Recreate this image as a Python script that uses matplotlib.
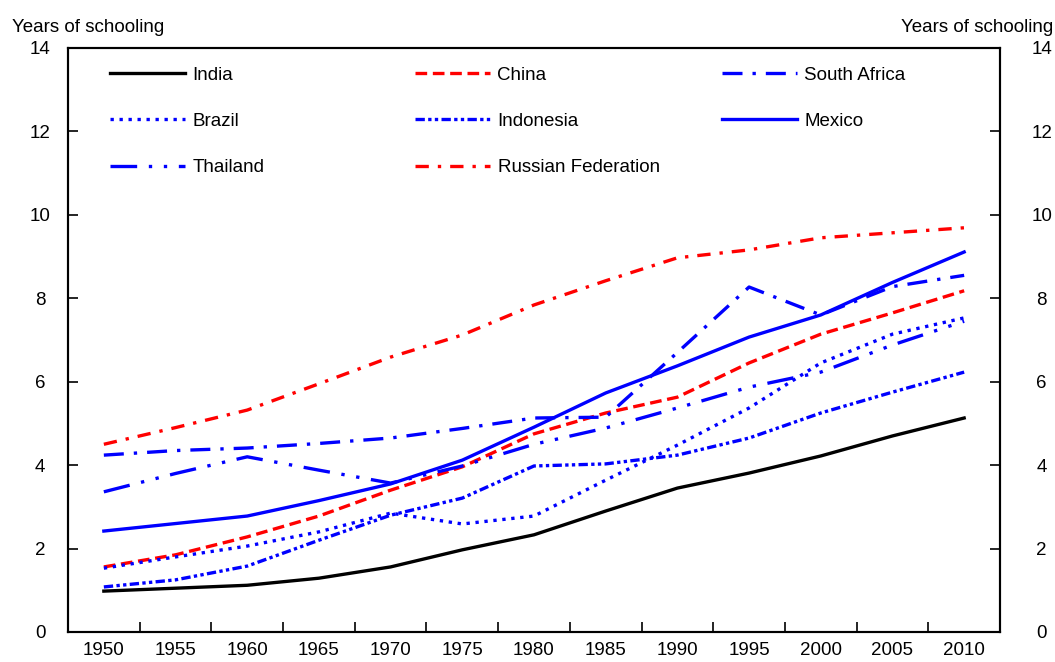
import matplotlib
matplotlib.use('Agg')
import matplotlib.pyplot as plt
import numpy as np

plt.rcParams['font.family'] = ['Liberation Sans', 'DejaVu Sans']

# Average years of schooling, 1950-2010
years = ['1950', '1955', '1960', '1965', '1970', '1975', '1980',
         '1985', '1990', '1995', '2000', '2005', '2010']

india = [0.98, 1.05, 1.12, 1.29, 1.56, 1.97, 2.33, 2.90, 3.45, 3.81, 4.22, 4.70, 5.13]
china = [1.56, 1.85, 2.28, 2.78, 3.40, 3.96, 4.75, 5.25, 5.63, 6.45, 7.14, 7.65, 8.18]
south_africa = [4.24, 4.35, 4.41, 4.52, 4.65, 4.88, 5.13, 5.15, 6.70, 8.27, 7.60, 8.28, 8.55]
brazil = [1.53, 1.80, 2.06, 2.40, 2.85, 2.59, 2.78, 3.64, 4.48, 5.37, 6.45, 7.14, 7.53]
indonesia = [1.08, 1.25, 1.58, 2.20, 2.80, 3.21, 3.98, 4.03, 4.24, 4.65, 5.25, 5.75, 6.23]
mexico = [2.42, 2.60, 2.78, 3.15, 3.55, 4.12, 4.91, 5.73, 6.38, 7.07, 7.60, 8.38, 9.11]
thailand = [3.36, 3.80, 4.20, 3.88, 3.57, 3.98, 4.50, 4.89, 5.37, 5.87, 6.23, 6.88, 7.45]
russia = [4.50, 4.90, 5.32, 5.95, 6.59, 7.12, 7.84, 8.42, 8.97, 9.16, 9.45, 9.57, 9.69]

FS = 13.5

fig = plt.figure(figsize=(10.55, 6.62), dpi=100)
ax = fig.add_axes([68 / 1055, 30 / 662, 932 / 1055, 584 / 662])

x = np.arange(len(years))
lw = 2.4
l_india, = ax.plot(x, india, color='black', lw=lw, label='India')
l_china, = ax.plot(x, china, color='#ff0000', lw=lw, ls=(0, (3.5, 1.7)), label='China')
l_sa, = ax.plot(x, south_africa, color='#0000ff', lw=lw, ls=(0, (6, 3, 1, 3)), label='South Africa')
l_brazil, = ax.plot(x, brazil, color='#0000ff', lw=lw, ls=(0, (1, 1.7)), label='Brazil')
l_indo, = ax.plot(x, indonesia, color='#0000ff', lw=lw, ls=(0, (2.8, 1, 1, 1, 1, 1)), label='Indonesia')
l_mex, = ax.plot(x, mexico, color='#0000ff', lw=lw, label='Mexico')
l_thai, = ax.plot(x, thailand, color='#0000ff', lw=lw, ls=(0, (8, 3.5, 1, 3.5, 1, 3.5)), label='Thailand')
l_rus, = ax.plot(x, russia, color='#ff0000', lw=lw, ls=(0, (4, 2.7, 1, 2.7)), label='Russian Federation')

ax.set_xlim(-0.5, len(years) - 0.5)
ax.set_ylim(0, 14)

# category labels centred, tick marks on the boundaries
ax.set_xticks(x)
ax.set_xticklabels(years, fontsize=FS)
ax.tick_params(axis='x', which='major', length=0, pad=7)
ax.set_xticks(np.arange(0.5, len(years) - 1, 1), minor=True)
ax.tick_params(axis='x', which='minor', direction='in', length=7, width=1.2)

yticks = np.arange(0, 15, 2)
ax.set_yticks(yticks)
ax.tick_params(axis='y', which='major', direction='in', length=7, width=1.2,
               labelsize=FS, pad=20)
for lab in ax.get_yticklabels():
    lab.set_horizontalalignment('center')

# right axis duplicates the scale
ax2 = ax.twinx()
ax2.set_ylim(0, 14)
ax2.set_yticks(yticks)
ax2.tick_params(axis='y', direction='in', length=7, width=1.2, labelsize=FS, pad=30)
for lab in ax2.get_yticklabels():
    lab.set_horizontalalignment('center')

for a in (ax, ax2):
    for s in a.spines.values():
        s.set_linewidth(1.5)

# legend in three columns
leg_kw = dict(frameon=False, fontsize=FS, handlelength=4.0, handletextpad=0.4,
              labelspacing=1.55, borderaxespad=0, borderpad=0)
top = 0.968
leg1 = ax2.legend(handles=[l_india, l_brazil, l_thai], loc='upper left',
                  bbox_to_anchor=(42 / 932, top), **leg_kw)
ax2.add_artist(leg1)
leg2 = ax2.legend(handles=[l_china, l_indo, l_rus], loc='upper left',
                  bbox_to_anchor=(347 / 932, top), **leg_kw)
ax2.add_artist(leg2)
leg3 = ax2.legend(handles=[l_sa, l_mex], loc='upper left',
                  bbox_to_anchor=(654 / 932, top), **leg_kw)

fig.text(12 / 1055, 1 - 28 / 662, 'Years of schooling', fontsize=FS, ha='left', va='center')
fig.text(1053 / 1055, 1 - 28 / 662, 'Years of schooling', fontsize=FS, ha='right', va='center')

fig.savefig('out.png', dpi=100)
